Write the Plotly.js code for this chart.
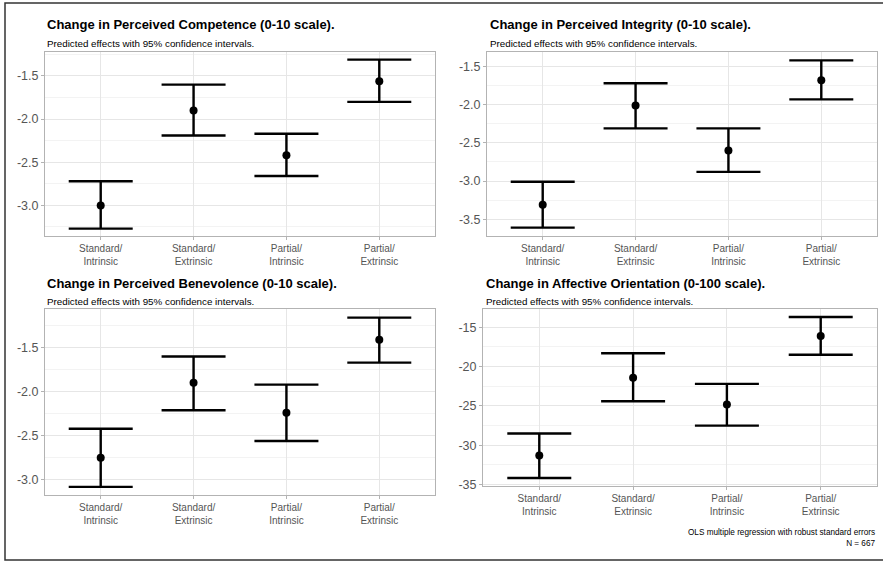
<!DOCTYPE html>
<html>
<head>
<meta charset="utf-8">
<script src="https://cdn.plot.ly/plotly-3.0.1.min.js"></script>
<style>html,body{margin:0;padding:0;background:#fff;}#chart{width:883px;height:561px;}</style>
</head>
<body>
<div id="chart"></div>
<script>
// ---- data ----
const categories = ["Standard/<br>Intrinsic", "Standard/<br>Extrinsic", "Partial/<br>Intrinsic", "Partial/<br>Extrinsic"];

const titles = [
  "Change in Perceived Competence (0-10 scale).",
  "Change in Perceived Integrity (0-10 scale).",
  "Change in Perceived Benevolence (0-10 scale).",
  "Change in Affective Orientation (0-100 scale)."
];
const subtitle = "Predicted effects with 95% confidence intervals.";
const caption = "OLS multiple regression with robust standard errors<br>N = 667";

const competenceEst   = [-3.00, -1.90, -2.42, -1.56];
const competenceLow   = [-3.27, -2.19, -2.66, -1.80];
const competenceHigh  = [-2.72, -1.60, -2.17, -1.31];

const integrityEst    = [-3.31, -2.01, -2.60, -1.68];
const integrityLow    = [-3.61, -2.31, -2.88, -1.93];
const integrityHigh   = [-3.01, -1.72, -2.31, -1.42];

const benevolenceEst  = [-2.75, -1.90, -2.24, -1.41];
const benevolenceLow  = [-3.08, -2.21, -2.56, -1.67];
const benevolenceHigh = [-2.42, -1.60, -1.92, -1.16];

const affectiveEst    = [-31.3, -21.4, -24.8, -16.1];
const affectiveLow    = [-34.15, -24.4, -27.5, -18.5];
const affectiveHigh   = [-28.5, -18.3, -22.2, -13.7];

const ticksCompetence  = [-3.0, -2.5, -2.0, -1.5];
const labelsCompetence = ["-3.0", "-2.5", "-2.0", "-1.5"];
const ticksIntegrity   = [-3.5, -3.0, -2.5, -2.0, -1.5];
const labelsIntegrity  = ["-3.5", "-3.0", "-2.5", "-2.0", "-1.5"];
const ticksBenevolence = [-3.0, -2.5, -2.0, -1.5];
const labelsBenevolence= ["-3.0", "-2.5", "-2.0", "-1.5"];
const ticksAffective   = [-35, -30, -25, -20, -15];
const labelsAffective  = ["-35", "-30", "-25", "-20", "-15"];

// ---- build ----
const W = 883, H = 561;
const FONT = "Liberation Sans, Arial, sans-serif";
const panels = [
  {est: competenceEst, lo: competenceLow, hi: competenceHigh, tv: ticksCompetence, tt: labelsCompetence, minor: 0.25,
   px: [45, 435], py: [52, 236], range: [-3.355, -1.222], tx: 45, ty: 25},
  {est: integrityEst, lo: integrityLow, hi: integrityHigh, tv: ticksIntegrity, tt: labelsIntegrity, minor: 0.25,
   px: [487, 877], py: [52, 236], range: [-3.72, -1.31], tx: 488, ty: 25},
  {est: benevolenceEst, lo: benevolenceLow, hi: benevolenceHigh, tv: ticksBenevolence, tt: labelsBenevolence, minor: 0.25,
   px: [45, 435], py: [309, 495], range: [-3.172, -1.062], tx: 45, ty: 283},
  {est: affectiveEst, lo: affectiveLow, hi: affectiveHigh, tv: ticksAffective, tt: labelsAffective, minor: 2.5,
   px: [483, 877], py: [309, 486], range: [-35.17, -12.68], tx: 484, ty: 283}
];

const traces = [];
const layout = {
  width: W, height: H,
  margin: {l: 0, r: 0, t: 0, b: 0},
  paper_bgcolor: "#ffffff",
  plot_bgcolor: "#ffffff",
  showlegend: false,
  font: {family: FONT, color: "#000"},
  annotations: [],
  shapes: [
    {type: "rect", xref: "paper", yref: "paper", x0: 5 / W, x1: 1.05, y0: 1 - 560 / H, y1: 1 - 3 / H,
     line: {color: "#333333", width: 1.5}, fillcolor: "rgba(0,0,0,0)"}
  ]
};

panels.forEach((p, i) => {
  const n = i + 1;
  const xa = n === 1 ? "x" : "x" + n;
  const ya = n === 1 ? "y" : "y" + n;
  traces.push({
    type: "scatter", mode: "markers",
    x: categories, y: p.est,
    xaxis: xa, yaxis: ya,
    marker: {color: "#000000", size: 8},
    error_y: {
      type: "data", symmetric: false,
      array: p.hi.map((h, k) => h - p.est[k]),
      arrayminus: p.est.map((e, k) => e - p.lo[k]),
      color: "#000000", thickness: 2.4, width: 32
    },
    hoverinfo: "skip"
  });
  const xk = n === 1 ? "xaxis" : "xaxis" + n;
  const yk = n === 1 ? "yaxis" : "yaxis" + n;
  layout[xk] = {
    domain: [p.px[0] / W, p.px[1] / W],
    anchor: ya,
    type: "category",
    range: [-0.6, 3.6],
    showgrid: true, gridcolor: "#e6e6e6", gridwidth: 1,
    showline: true, mirror: true, linecolor: "#b3b3b3", linewidth: 1,
    ticks: "outside", ticklen: 3, tickcolor: "#b3b3b3",
    tickfont: {size: 10, color: "#555555", family: FONT},
    zeroline: false, fixedrange: true
  };
  layout[yk] = {
    domain: [1 - p.py[1] / H, 1 - p.py[0] / H],
    anchor: xa,
    range: p.range,
    tickmode: "array", tickvals: p.tv, ticktext: p.tt,
    showgrid: true, gridcolor: "#e6e6e6", gridwidth: 1,
    minor: {tickmode: "linear", tick0: 0, dtick: p.minor, showgrid: true, gridcolor: "#f3f3f3", gridwidth: 1, ticks: ""},
    showline: true, mirror: true, linecolor: "#b3b3b3", linewidth: 1,
    ticks: "outside", ticklen: 3, tickcolor: "#b3b3b3",
    tickfont: {size: 12.5, color: "#555555", family: FONT},
    zeroline: false, fixedrange: true
  };
  layout.annotations.push({
    xref: "paper", yref: "paper", x: p.tx / W, y: 1 - p.ty / H,
    xanchor: "left", yanchor: "middle", showarrow: false,
    text: "<b>" + titles[i] + "</b>",
    font: {size: 13, color: "#000000", family: FONT}
  });
  layout.annotations.push({
    xref: "paper", yref: "paper", x: p.tx / W, y: 1 - (p.ty + 18) / H,
    xanchor: "left", yanchor: "middle", showarrow: false,
    text: subtitle,
    font: {size: 9.8, color: "#000000", family: FONT}
  });
});

layout.annotations.push({
  xref: "paper", yref: "paper", x: 877 / W, y: 1 - 538 / H,
  xanchor: "right", yanchor: "middle", align: "right", showarrow: false,
  text: caption,
  font: {size: 8.2, color: "#000000", family: FONT}
});

Plotly.newPlot("chart", traces, layout, {displayModeBar: false, staticPlot: true});
</script>
</body>
</html>
